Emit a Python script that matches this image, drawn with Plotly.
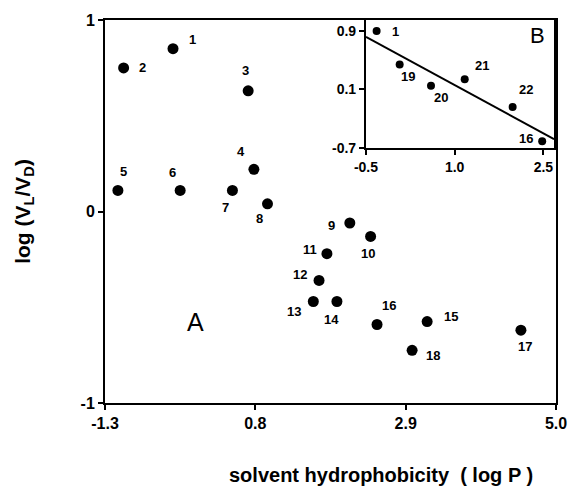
import plotly.graph_objects as go

# ---- Main panel (A) data ----
main_labels = ["1", "2", "3", "4", "5", "6", "7", "8", "9", "10", "11", "12",
               "13", "14", "15", "16", "17", "18"]
main_x = [-0.35, -1.04, 0.70, 0.78, -1.12, -0.25, 0.48, 0.97, 2.12, 2.41, 1.80,
          1.69, 1.61, 1.94, 3.20, 2.50, 4.51, 2.99]
main_y = [0.85, 0.75, 0.63, 0.22, 0.11, 0.11, 0.11, 0.04, -0.06, -0.13, -0.22,
          -0.36, -0.47, -0.47, -0.575, -0.59, -0.62, -0.725]

main_xticks = [-1.3, 0.8, 2.9, 5.0]
main_xticktext = ["-1.3", "0.8", "2.9", "5.0"]
main_yticks = [1, 0, -1]
main_yticktext = ["1", "0", "-1"]

# ---- Inset panel (B) data ----
inset_labels = ["1", "19", "20", "21", "22", "16"]
inset_x = [-0.32, 0.07, 0.60, 1.17, 1.98, 2.48]
inset_y = [0.90, 0.44, 0.15, 0.24, -0.14, -0.61]
fit_x = [-0.5, 2.68]
fit_y = [0.82, -0.58]

inset_xticks = [-0.5, 1.0, 2.5]
inset_xticktext = ["-0.5", "1.0", "2.5"]
inset_yticks = [0.9, 0.1, -0.7]
inset_yticktext = ["0.9", "0.1", "-0.7"]

# label placement offsets (pixels), style only
main_off = {"1": (19, -9), "2": (19, 0), "3": (-3, -20), "4": (-13, -18),
            "5": (6, -19), "6": (-8, -18), "7": (-7, 17), "8": (-8, 15),
            "9": (-18, 3), "10": (-3, 17), "11": (-17, -4), "12": (-19, -6),
            "13": (-19, 10), "14": (-5, 18), "15": (24, -5), "16": (12, -19),
            "17": (4, 16), "18": (21, 5)}
inset_off = {"1": (19, 1), "19": (8, 12), "20": (10, 12), "21": (17, -14),
             "22": (13, -17), "16": (-16, -3)}

FONT = "Liberation Sans, Arial, sans-serif"

fig = go.Figure()
fig.add_trace(go.Scatter(x=main_x, y=main_y, mode="markers",
                         marker=dict(color="black", size=11),
                         xaxis="x", yaxis="y", showlegend=False,
                         hoverinfo="skip"))
fig.add_trace(go.Scatter(x=fit_x, y=fit_y, mode="lines",
                         line=dict(color="black", width=2),
                         xaxis="x2", yaxis="y2", showlegend=False,
                         hoverinfo="skip"))
fig.add_trace(go.Scatter(x=inset_x, y=inset_y, mode="markers",
                         marker=dict(color="black", size=8),
                         xaxis="x2", yaxis="y2", showlegend=False,
                         hoverinfo="skip"))

annotations = []
for lab, x, y in zip(main_labels, main_x, main_y):
    dx, dy = main_off[lab]
    annotations.append(dict(x=x, y=y, xref="x", yref="y", text=lab,
                            showarrow=False, xshift=dx, yshift=-dy,
                            xanchor="center", yanchor="middle",
                            font=dict(size=13, color="black", family=FONT,
                                      weight="bold")))
for lab, x, y in zip(inset_labels, inset_x, inset_y):
    dx, dy = inset_off[lab]
    annotations.append(dict(x=x, y=y, xref="x2", yref="y2", text=lab,
                            showarrow=False, xshift=dx, yshift=-dy,
                            xanchor="center", yanchor="middle",
                            font=dict(size=13, color="black", family=FONT,
                                      weight="bold")))

annotations += [
    dict(x=0.2, y=0.211, xref="paper", yref="paper", text="A",
         showarrow=False, xanchor="center", yanchor="middle",
         font=dict(size=25, color="black", family=FONT)),
    dict(x=0.958, y=0.96, xref="paper", yref="paper", text="B",
         showarrow=False, xanchor="center", yanchor="middle",
         font=dict(size=22, color="black", family=FONT)),
    dict(x=0.611, y=-0.189, xref="paper", yref="paper",
         text="solvent hydrophobicity&nbsp;&nbsp;( log P )", showarrow=False,
         xanchor="center", yanchor="middle",
         font=dict(size=20, color="black", family=FONT, weight="bold")),
    dict(x=-0.181, y=0.5, xref="paper", yref="paper", textangle=-90,
         text="log (V<sub>L</sub>/V<sub>D</sub>)", showarrow=False,
         xanchor="center", yanchor="middle",
         font=dict(size=21, color="black", family=FONT, weight="bold")),
]

axis_common = dict(showline=True, linecolor="black", linewidth=2, mirror=True,
                   showgrid=False, zeroline=False, ticks="outside",
                   ticklen=5, tickcolor="black", tickwidth=1.5)

fig.update_layout(
    width=579, height=496,
    margin=dict(l=105, r=16, t=17, b=93),
    paper_bgcolor="white", plot_bgcolor="white",
    font=dict(family=FONT, color="black"),
    xaxis=dict(range=[-1.3, 5.0], domain=[0, 1], tickvals=main_xticks,
               ticktext=main_xticktext,
               tickfont=dict(size=16, weight="bold"), **axis_common),
    yaxis=dict(range=[-1, 1], domain=[0, 1], tickvals=main_yticks,
               ticktext=main_yticktext,
               tickfont=dict(size=16, weight="bold"), **axis_common),
    xaxis2=dict(range=[-0.5, 2.68], domain=[0.5786, 0.9956], anchor="y2",
                tickvals=inset_xticks, ticktext=inset_xticktext,
                tickfont=dict(size=14, weight="bold"), **axis_common),
    yaxis2=dict(range=[-0.7, 1.05], domain=[0.666, 1.0], anchor="x2",
                tickvals=inset_yticks, ticktext=inset_yticktext,
                tickfont=dict(size=14, weight="bold"), **axis_common),
    annotations=annotations,
    showlegend=False,
)

fig.write_html("out.html",
               config={"displayModeBar": False},
               post_script="document.body.style.margin='0';"
                           "document.body.style.padding='0';")
